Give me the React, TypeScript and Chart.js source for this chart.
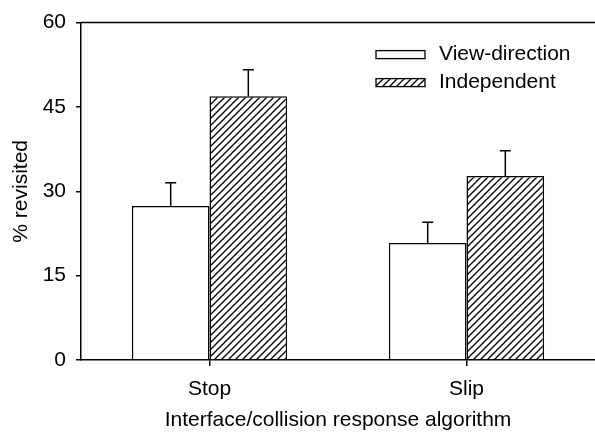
import React, { useEffect, useRef } from 'react';
import { Chart, registerables } from 'chart.js';

Chart.register(...registerables);

const categories = ['Stop', 'Slip'];
const seriesNames = ['View-direction', 'Independent'];
const viewDirection = [27.4, 20.8];
const viewDirectionErr = [4.1, 3.7];
const independent = [46.9, 32.7];
const independentErr = [4.7, 4.5];
const yTicks = [0, 15, 30, 45, 60];
const xTitle = 'Interface/collision response algorithm';
const yTitle = '% revisited';

const errors = [viewDirectionErr, independentErr];
const values = [viewDirection, independent];

const FONT_FAMILY = '"Liberation Sans", Arial, sans-serif';
const FONT_SIZE = 21;

function makeHatch(main: CanvasRenderingContext2D): CanvasPattern {
  const s = 7;
  const c = document.createElement('canvas');
  c.width = s;
  c.height = s;
  const g = c.getContext('2d')!;
  g.fillStyle = '#fff';
  g.fillRect(0, 0, s, s);
  g.strokeStyle = '#000';
  g.lineWidth = 1.3;
  g.beginPath();
  g.moveTo(-1, s + 1);
  g.lineTo(s + 1, -1);
  g.moveTo(-1, 1);
  g.lineTo(1, -1);
  g.moveTo(s - 1, s + 1);
  g.lineTo(s + 1, s - 1);
  g.stroke();
  return main.createPattern(c, 'repeat')!;
}

const errorBarPlugin = {
  id: 'errorBars',
  afterDatasetsDraw(chart: any) {
    const { ctx } = chart;
    const yScale = chart.scales.y;
    ctx.save();
    ctx.strokeStyle = '#000';
    ctx.lineWidth = 1.5;
    chart.data.datasets.forEach((_: any, d: number) => {
      const meta = chart.getDatasetMeta(d);
      meta.data.forEach((el: any, i: number) => {
        const v = values[d][i];
        const e = errors[d][i];
        const x = el.x;
        const yTop = yScale.getPixelForValue(v);
        const yErr = yScale.getPixelForValue(v + e);
        ctx.beginPath();
        ctx.moveTo(x, yTop);
        ctx.lineTo(x, yErr);
        ctx.moveTo(x - 5.5, yErr);
        ctx.lineTo(x + 5.5, yErr);
        ctx.stroke();
      });
    });
    ctx.restore();
  },
};

const framePlugin = {
  id: 'frameTop',
  afterDraw(chart: any) {
    const { ctx, chartArea } = chart;
    ctx.save();
    ctx.strokeStyle = '#000';
    ctx.lineWidth = 1.5;
    ctx.beginPath();
    ctx.moveTo(chartArea.left, chartArea.top);
    ctx.lineTo(chartArea.right, chartArea.top);
    ctx.stroke();
    ctx.restore();
  },
};

const legendPlugin = {
  id: 'boxLegend',
  afterDraw(chart: any) {
    const { ctx, chartArea } = chart;
    const boxLeft = chartArea.right - 219;
    const boxW = 49;
    const boxH = 8;
    ctx.save();
    ctx.font = `${FONT_SIZE}px ${FONT_FAMILY}`;
    ctx.textBaseline = 'middle';
    ctx.textAlign = 'left';
    chart.data.datasets.forEach((ds: any, d: number) => {
      const cy = chartArea.top + 32 + d * 28;
      ctx.fillStyle = ds.backgroundColor;
      ctx.fillRect(boxLeft, cy - boxH / 2, boxW, boxH);
      ctx.strokeStyle = '#000';
      ctx.lineWidth = 1.3;
      ctx.strokeRect(boxLeft, cy - boxH / 2, boxW, boxH);
      ctx.fillStyle = '#000';
      ctx.fillText(ds.label, boxLeft + 63, cy);
    });
    ctx.restore();
  },
};

export default function App() {
  const canvasRef = useRef<HTMLCanvasElement | null>(null);

  useEffect(() => {
    const canvas = canvasRef.current;
    if (!canvas) return;
    const ctx = canvas.getContext('2d')!;
    const hatch = makeHatch(ctx);
    Chart.defaults.font.family = FONT_FAMILY;
    Chart.defaults.color = '#000';

    const chart = new Chart(canvas, {
      type: 'bar',
      data: {
        labels: categories,
        datasets: [
          {
            label: seriesNames[0],
            data: viewDirection,
            backgroundColor: '#ffffff',
            borderColor: '#000000',
            borderWidth: 1.5,
            categoryPercentage: 0.604,
            barPercentage: 1,
          },
          {
            label: seriesNames[1],
            data: independent,
            backgroundColor: hatch as any,
            borderColor: '#000000',
            borderWidth: 1.5,
            categoryPercentage: 0.604,
            barPercentage: 1,
          },
        ],
      },
      options: {
        animation: false,
        responsive: true,
        maintainAspectRatio: false,
        layout: { padding: { top: 19, right: 0, left: 0, bottom: 0 } },
        plugins: {
          legend: { display: false },
          tooltip: { enabled: false },
        },
        scales: {
          x: {
            type: 'category',
            offset: true,
            grid: {
              display: true,
              drawOnChartArea: false,
              drawTicks: true,
              tickLength: 6,
              offset: false,
              color: '#000',
              lineWidth: 1.5,
            },
            border: { display: true, color: '#000', width: 1.5 },
            ticks: { color: '#000', font: { size: FONT_SIZE }, padding: 11, maxRotation: 0 },
            title: {
              display: true,
              text: xTitle,
              color: '#000',
              font: { size: FONT_SIZE },
              padding: { top: 5, bottom: 0.5 },
            },
            afterFit: (s: any) => {
              s.height = 73;
            },
          },
          y: {
            min: 0,
            max: 60,
            afterBuildTicks: (s: any) => {
              s.ticks = yTicks.map((v) => ({ value: v }));
            },
            grid: {
              display: true,
              drawOnChartArea: false,
              drawTicks: true,
              tickLength: 5,
              color: '#000',
              lineWidth: 1.5,
            },
            border: { display: true, color: '#000', width: 1.5 },
            ticks: { color: '#000', font: { size: FONT_SIZE }, padding: 10 },
            title: {
              display: true,
              text: yTitle,
              color: '#000',
              font: { size: FONT_SIZE },
              padding: { top: 9, bottom: 10 },
            },
            afterFit: (s: any) => {
              s.width = 81;
            },
          },
        },
      } as any,
      plugins: [errorBarPlugin, framePlugin, legendPlugin],
    });
    return () => chart.destroy();
  }, []);

  return (
    <div style={{ position: 'fixed', left: 0, top: 0, width: 595, height: 433, background: '#fff' }}>
      <canvas ref={canvasRef} />
    </div>
  );
}
